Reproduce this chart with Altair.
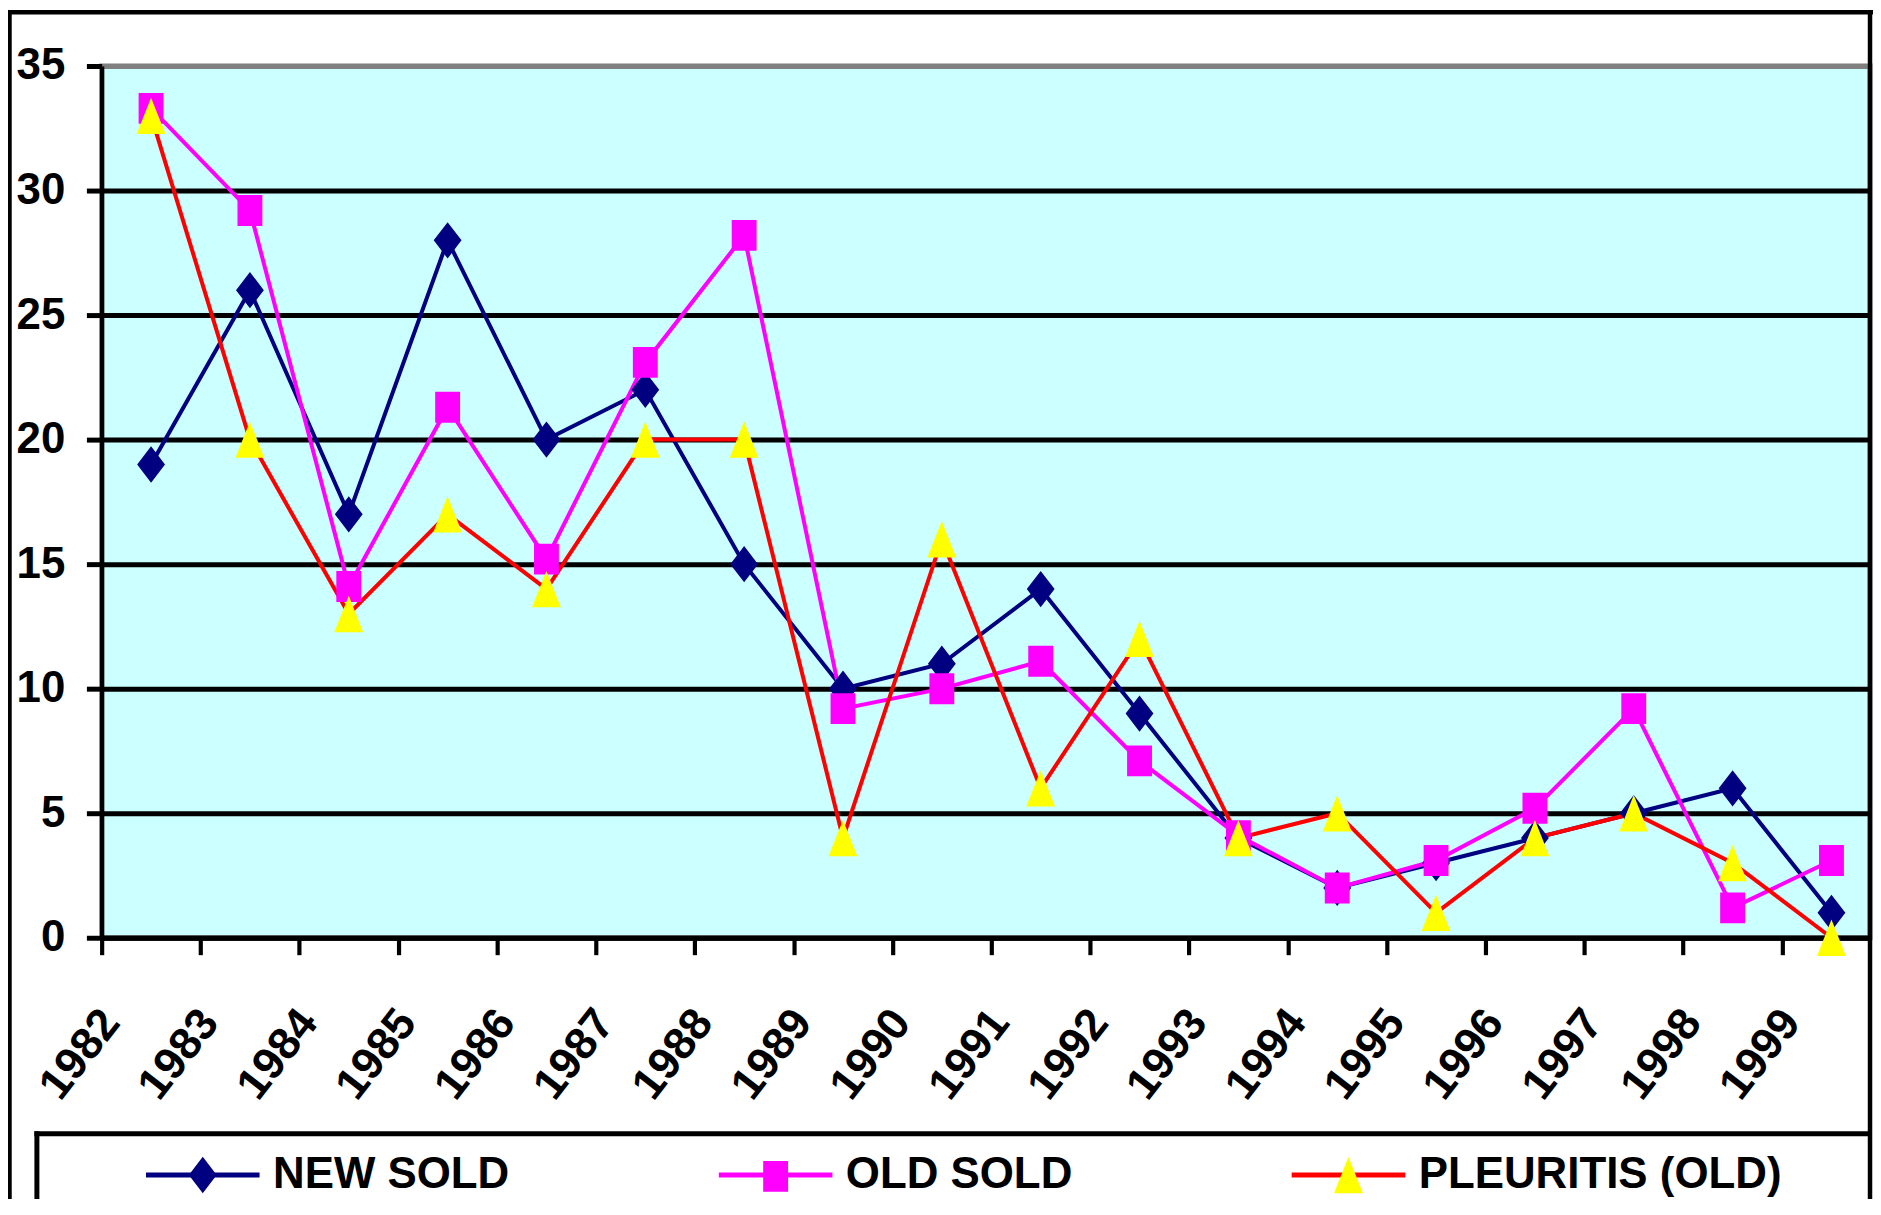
import altair as alt
import pandas as pd

# ---------------- data ----------------
years = ["1982", "1983", "1984", "1985", "1986", "1987", "1988", "1989", "1990",
         "1991", "1992", "1993", "1994", "1995", "1996", "1997", "1998", "1999"]
new_sold = [19, 26, 17, 28, 20, 22, 15, 10, 11, 14, 9, 4, 2, 3, 4, 5, 6, 1]
old_sold = [33.3, 29.2, 14.1, 21.3, 15.2, 23.1, 28.2, 9.2, 10.0, 11.1, 7.1, 4.1,
            2.0, 3.1, 5.2, 9.2, 1.2, 3.1]
pleuritis = [33, 20, 13, 17, 14, 20, 20, 4, 16, 6, 12, 4, 5, 1, 4, 5, 3, 0]
series_names = ["NEW SOLD", "OLD SOLD", "PLEURITIS (OLD)"]
y_ticks = [0, 5, 10, 15, 20, 25, 30, 35]

# ---------------- styles ----------------
line_colors = ["#000080", "#FF00FF", "#FF0000"]
marker_colors = ["#000080", "#FF00FF", "#FFFF00"]
# unit paths for symbol size 12996 (radius 57 px); the zero-length end pieces
# only widen the symbol bounds so both legends lay out identically
_ends = "M-1,0L-1,0M1,0L1,0"
marker_paths = [
    _ends + "M0,-0.32L0.245,0L0,0.32L-0.245,0Z",          # diamond
    _ends + "M-0.219,-0.272H0.219V0.272H-0.219Z",         # square
    _ends + "M0,-0.32L0.254,0.32L-0.254,0.32Z",           # triangle
]
SYM = 12996
FONT = "'Liberation Sans', Arial, sans-serif"

W, H = 1775, 875
XMAX = 17.89

rows = []
for name, vals in zip(series_names, [new_sold, old_sold, pleuritis]):
    for i, (yr, v) in enumerate(zip(years, vals)):
        rows.append({"series": name, "idx": i, "year": yr, "value": v})
df = pd.DataFrame(rows)

label_expr = "[" + ",".join("'%s'" % y for y in years) + "][datum.value]"

x_enc = alt.X(
    "xpos:Q",
    scale=alt.Scale(domain=[0, XMAX], nice=False, zero=False),
    axis=alt.Axis(
        values=list(range(len(years))), labelExpr=label_expr, title=None, grid=False,
        domainColor="black", domainWidth=5, tickColor="black", tickWidth=4.2,
        tickSize=17, labelAngle=-52, labelAlign="right", labelBaseline="middle",
        labelFont=FONT, labelFontWeight="bold", labelFontSize=45,
        labelColor="black", labelOffset=8.5, labelPadding=60, labelOverlap=False,
        labelFlush=False, labelBound=False, zindex=0,
    ),
)
y_enc = alt.Y(
    "value:Q",
    scale=alt.Scale(domain=[0, 35], nice=False, zero=True),
    axis=alt.Axis(
        values=y_ticks, title=None, grid=True,
        gridColor={"condition": {"test": "datum.value == 35", "value": "#808080"},
                   "value": "black"},
        gridWidth=5, domainColor="black", domainWidth=4.3, tickColor="black",
        tickWidth=5, tickSize=15.3, labelFont=FONT, labelFontWeight="bold",
        labelFontSize=44, labelColor="black", labelPadding=21.7,
        labelOverlap=False, labelFlush=False, zindex=0,
    ),
)

legend_common = dict(
    title=None, orient="none", legendX=42, legendY=1053.5,
    direction="horizontal", symbolSize=SYM, symbolStrokeWidth=5,
    labelFont=FONT, labelFontWeight="bold", labelFontSize=44, labelColor="black",
    labelOffset=11, columnPadding=72, gridAlign="all", labelLimit=1000,
    padding=0,
)
legend_lines = alt.Legend(symbolType="M-1,0H1", **legend_common)
legend_marks = alt.Legend(labelOpacity=0, symbolStrokeColor="transparent",
                          zindex=1, **legend_common)

base = alt.Chart(df).transform_calculate(
    xpos="datum.idx + 0.5", series2="datum.series"
)

lines = base.mark_line(strokeWidth=4).encode(
    x=x_enc, y=y_enc,
    stroke=alt.Stroke("series:N", scale=alt.Scale(range=line_colors),
                      legend=legend_lines),
)

points = base.mark_point(filled=True, size=SYM, opacity=1, strokeWidth=0).encode(
    x=x_enc, y=y_enc,
    color=alt.Color("series2:N", scale=alt.Scale(range=marker_colors),
                    legend=legend_marks),
    shape=alt.Shape("series2:N", scale=alt.Scale(range=marker_paths),
                    legend=legend_marks),
)

one = alt.Data(values=[{"k": 0}])


def vrule(x, y, y2, sw=4.5, color="black"):
    return alt.Chart(one).mark_rule(color=color, strokeWidth=sw).encode(
        x=alt.value(x), y=alt.value(y), y2=alt.value(y2))


def hrule(x, x2, y, sw=4.5, color="black"):
    return alt.Chart(one).mark_rule(color=color, strokeWidth=sw).encode(
        x=alt.value(x), x2=alt.value(x2), y=alt.value(y))


frame = [
    vrule(-92.5, -56, 1300),
    hrule(-94.75, W + 10, -54),
    vrule(W, -56, 1300),
    hrule(-67.5, W, 1071.8, sw=5),
    vrule(-65, 1069.3, 1300, sw=5),
]

chart = alt.layer(lines, points, *frame).properties(
    width=W, height=H,
    padding={"left": 94, "top": 56, "right": 3, "bottom": 260},
    autosize=alt.AutoSizeParams(type="none"),
    background="white",
).configure_view(fill="#CCFFFF", stroke="#808080", strokeWidth=5)

chart.save("out.html", embed_options={"renderer": "svg", "actions": False})
